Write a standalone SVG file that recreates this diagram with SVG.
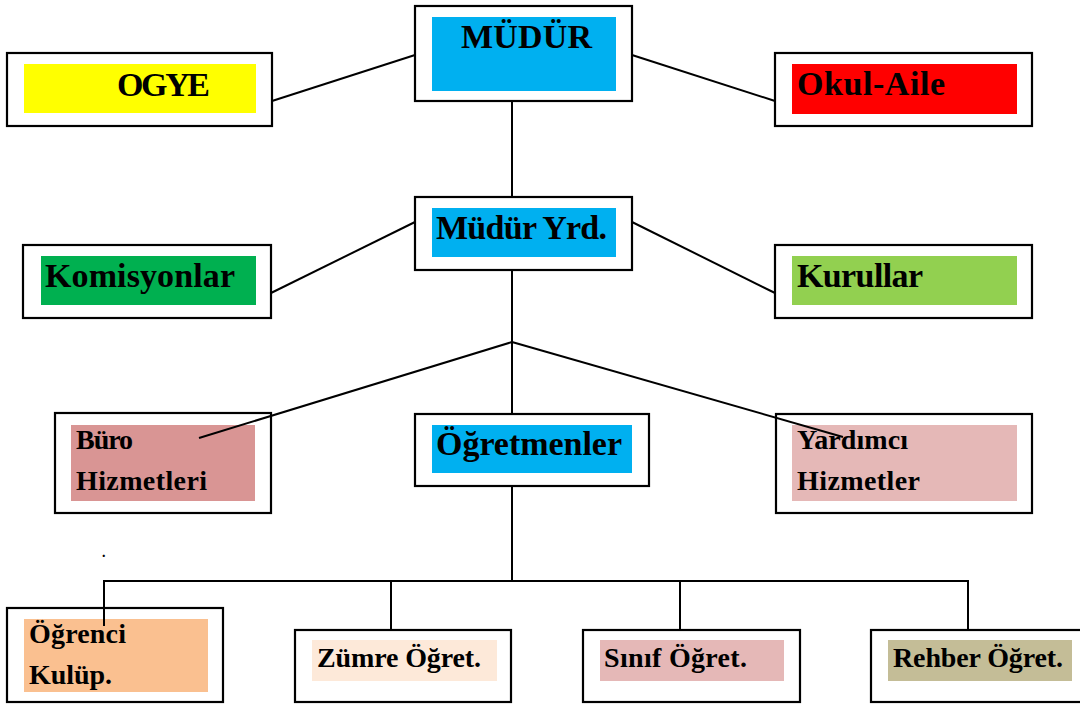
<svg xmlns="http://www.w3.org/2000/svg" width="1080" height="706" viewBox="0 0 1080 706">
<style>
.box{fill:#fff;stroke:#000;stroke-width:2.2}
.t{font-family:"Liberation Serif","Times New Roman",serif;font-weight:bold;fill:#000}
.big{font-size:34px}
.sm{font-size:28px}
.c{stroke:#000;stroke-width:2;fill:none}
</style>
<rect width="1080" height="706" fill="#fff"/>
<g id="ogye">
<rect class="box" x="7" y="53" width="265" height="73"/>
<rect x="24" y="64" width="232" height="49" fill="#FFFF00"/>
<text class="t big" x="117" y="96" textLength="93">OGYE</text>
</g>
<g id="mudur">
<rect class="box" x="415" y="6" width="217" height="95"/>
<rect x="432" y="17" width="184" height="74" fill="#00B0F0"/>
<text class="t big" x="461" y="48" textLength="131">MÜDÜR</text>
</g>
<g id="okul-aile">
<rect class="box" x="775" y="53" width="257" height="73"/>
<rect x="792" y="64" width="225" height="50" fill="#FF0000"/>
<text class="t big" x="797" y="95" textLength="148">Okul-Aile</text>
</g>
<g id="mudur-yrd">
<rect class="box" x="415" y="197" width="217" height="73"/>
<rect x="432" y="208" width="184" height="49" fill="#00B0F0"/>
<text class="t big" x="436" y="239" textLength="171">Müdür Yrd.</text>
</g>
<g id="komisyonlar">
<rect class="box" x="23" y="245" width="248" height="73"/>
<rect x="41" y="256" width="215" height="49" fill="#00B050"/>
<text class="t big" x="45" y="287" textLength="190">Komisyonlar</text>
</g>
<g id="kurullar">
<rect class="box" x="775" y="245" width="257" height="73"/>
<rect x="792" y="256" width="225" height="49" fill="#92D050"/>
<text class="t big" x="797" y="287" textLength="126">Kurullar</text>
</g>
<g id="buro">
<rect class="box" x="55" y="413" width="216" height="100"/>
<rect x="71" y="425" width="184" height="76" fill="#D99594"/>
<text class="t sm" x="76" y="449" textLength="57">Büro</text>
<text class="t sm" x="76" y="490" textLength="131">Hizmetleri</text>
</g>
<g id="ogretmenler">
<rect class="box" x="415" y="414" width="234" height="72"/>
<rect x="432" y="425" width="200" height="48" fill="#00B0F0"/>
<text class="t big" x="436" y="455" textLength="186">Öğretmenler</text>
</g>
<g id="yardimci">
<rect class="box" x="776" y="414" width="256" height="99"/>
<rect x="792" y="425" width="225" height="76" fill="#E5B8B7"/>
<text class="t sm" x="797" y="449" textLength="111">Yardımcı</text>
<text class="t sm" x="797" y="490" textLength="123">Hizmetler</text>
</g>
<g id="ogrenci">
<rect class="box" x="7" y="608" width="216" height="94"/>
<rect x="24" y="619" width="184" height="73" fill="#FAC090"/>
<text class="t sm" x="29" y="643" textLength="97">Öğrenci</text>
<text class="t sm" x="29" y="684" textLength="83">Kulüp.</text>
</g>
<g id="zumre">
<rect class="box" x="295" y="630" width="216" height="72"/>
<rect x="312" y="640" width="185" height="41" fill="#FDE9D9"/>
<text class="t sm" x="317" y="667" textLength="164">Zümre Öğret.</text>
</g>
<g id="sinif">
<rect class="box" x="583" y="630" width="217" height="72"/>
<rect x="600" y="640" width="184" height="41" fill="#E5B8B7"/>
<text class="t sm" x="604" y="667" textLength="143">Sınıf Öğret.</text>
</g>
<g id="rehber">
<rect class="box" x="871" y="630" width="212" height="72"/>
<rect x="888" y="640" width="184" height="41" fill="#C4BD97"/>
<text class="t sm" x="893" y="667" textLength="170">Rehber Öğret.</text>
</g>
<text class="t" x="102" y="557" font-size="14">.</text>
<g id="connectors">
<line class="c" x1="415" y1="55" x2="272" y2="101"/>
<line class="c" x1="632" y1="55" x2="775" y2="101"/>
<line class="c" x1="512" y1="101" x2="512" y2="197"/>
<line class="c" x1="415" y1="222" x2="271" y2="293"/>
<line class="c" x1="632" y1="222" x2="775" y2="293"/>
<line class="c" x1="512" y1="270" x2="512" y2="414"/>
<line class="c" x1="512" y1="342" x2="199" y2="438"/>
<line class="c" x1="512" y1="342" x2="843" y2="437"/>
<line class="c" x1="512" y1="486" x2="512" y2="581"/>
<polyline class="c" points="104,626 104,581 968,581 968,630"/>
<line class="c" x1="391" y1="581" x2="391" y2="630"/>
<line class="c" x1="680" y1="581" x2="680" y2="630"/>
</g>
</svg>
